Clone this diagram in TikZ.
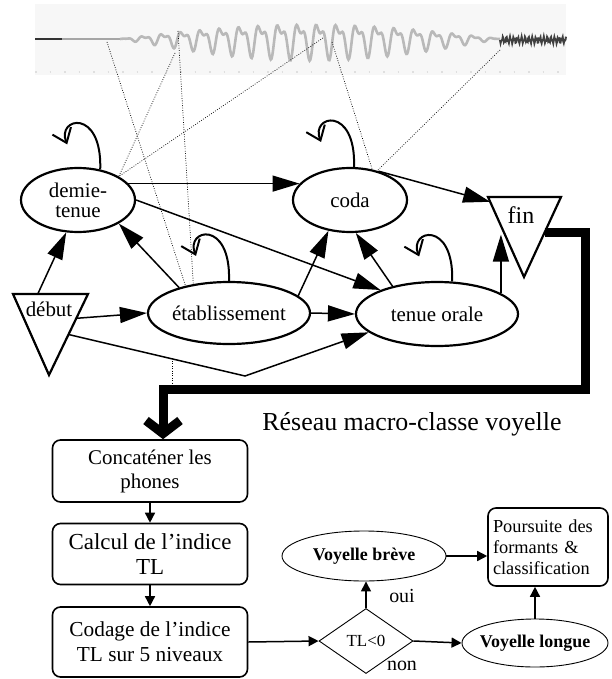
\documentclass[tikz,border=0pt]{standalone}
\usepackage{fontspec}
\setmainfont{Liberation Serif}
\usetikzlibrary{shapes.geometric,arrows.meta,calc,positioning}

\begin{document}
\begin{tikzpicture}[x=1bp,y=-1bp,
  state/.style={ellipse,draw,line width=2.2bp,inner sep=0pt,align=center,font=\fontsize{21}{20}\selectfont},
  edge/.style={line width=1.5bp,-{Triangle[length=27bp,width=16bp]}},
  selfloop/.style={line width=2bp,-{Straight Barb[length=13bp,width=20bp]}},
  trace/.style={line width=0.7bp,dash pattern=on 0.8bp off 1.6bp},
  bigarrow/.style={line width=9bp,-{Straight Barb[length=13bp,width=34bp]}},
  stepbox/.style={draw,rounded corners=8bp,line width=1.6bp,minimum width=195bp,inner sep=2bp,align=center},
  flow/.style={line width=1.5bp,-{Triangle[length=10bp,width=10bp]}},
  choice/.style={ellipse,draw,line width=0.9bp,inner sep=0pt,font=\fontsize{18}{20}\selectfont\bfseries},
]
\useasboundingbox (0,0) rectangle (612,679);
%%
% Signal
\fill[gray!6] (35,4) rectangle (566,75);
\draw[gray!25,line width=1.5bp,dash pattern=on 1.5bp off 13bp] (35,72) -- (566,72);
\draw[black!80,line width=2.4bp] (35,39) -- (62,39);
\draw[gray!70,line width=1.6bp] (62,39) -- (120,39);
\draw[gray!55,line width=2.6bp] plot[domain=120:500,samples=500]
  (\x,{39 - 22*sin(0.4737*(\x-120))*(0.65*sin(18.557*(\x-120)) + 0.35*sin(37.113*(\x-120)+60))});
\draw[black!75,line width=2bp] plot[domain=500:566,samples=120]
  (\x,{40 + 2*sin(97*(\x-500)) + 1.5*sin(211*(\x-500))});
\coordinate (w1) at (107,42);
\coordinate (w2) at (175,53);
\coordinate (w3) at (178,31);
\coordinate (w4) at (323,38);
\coordinate (w5) at (332,42);
\coordinate (w6) at (500,50);
%%
% Node: demie-tenue
\node[state,minimum width=114bp,minimum height=64bp] (dt) at (78,200) {demie-\\tenue};
% Node: coda
\node[state,minimum width=114bp,minimum height=64bp] (cd) at (350,200) {coda};
% Node: etablissement
\node[state,minimum width=162bp,minimum height=62bp] (et) at (229,313) {\makebox[0pt]{établissement}};
% Node: tenue orale
\node[state,minimum width=162bp,minimum height=64bp] (to) at (437,314) {tenue orale};
% Node: debut
\coordinate (dbA) at (13,294);
\coordinate (dbB) at (88,294);
\coordinate (dbC) at (49,375);
\draw[line width=2.2bp] (dbA) -- (dbB) -- (dbC) -- cycle;
\node[font=\fontsize{21}{20}\selectfont] (db) at (49,309) {début};
% Node: fin
\coordinate (finA) at (488,197);
\coordinate (finB) at (561,197);
\coordinate (finC) at (524,277);
\draw[line width=2.2bp] (finA) -- (finB) -- (finC) -- cycle;
\node[font=\fontsize{24}{24}\selectfont] (fin) at (521,215) {fin};
\coordinate (finL) at ($(finA)!0.47!(finC)$);
\coordinate (finR) at ($(finB)!0.44!(finC)$);
\coordinate (bend) at (245,376);
\coordinate (corner) at (585,389);
%%
% Traces: signal -> states
\draw[trace] (w1) -- (et.148);
\draw[trace] (w2) -- (dt.30);
\draw[trace] (w3) -- (et.141);
\draw[trace] (w4) -- (dt.30);
\draw[trace] (w5) -- (cd.54);
\draw[trace] (w6) -- (cd.47);
\draw[trace] (172,361) -- (172,385);
%%
% Edge: demie-tenue -> coda
\draw[edge] (dt.18) -- (cd.162);
% Edge: demie-tenue -> tenue orale
\draw[edge] (dt.east) -- (to.157);
% Edge: debut -> demie-tenue
\draw[edge] ($(dbA)!0.33!(dbB)$) -- (dt.250);
% Edge: debut -> etablissement
\draw[edge] ($(dbB)!0.3!(dbC)$) -- (et.west);
% Edge: debut -> tenue orale
\draw[edge] ($(dbB)!0.5!(dbC)$) -- (bend) -- (to.195);
% Edge: etablissement -> demie-tenue
\draw[edge] (et.153) -- (dt.330);
% Edge: etablissement -> coda
\draw[edge] (et.14) -- (cd.235);
% Edge: etablissement -> tenue orale
\draw[edge] (et.east) -- (to.west);
% Edge: tenue orale -> coda
\draw[edge] (to.148) -- (cd.280);
% Edge: tenue orale -> fin
\draw[edge] (to.18) -- (to.18 |- finL);
% Edge: coda -> fin
\draw[edge] (cd.45) -- ($(finA)!0.06!(finC)$);
% Self loops
\draw[selfloop] (dt.54) .. controls ($(dt.54)+(2,-62)$) and ($(dt.54)+(-44,-52)$) .. ($(dt.54)+(-33,-25)$);
\draw[selfloop] (et.north) .. controls ($(et.north)+(2,-62)$) and ($(et.north)+(-44,-52)$) .. ($(et.north)+(-33,-25)$);
\draw[selfloop] (cd.83) .. controls ($(cd.83)+(2,-62)$) and ($(cd.83)+(-44,-52)$) .. ($(cd.83)+(-33,-25)$);
\draw[selfloop] (to.65) .. controls ($(to.65)+(2,-62)$) and ($(to.65)+(-44,-52)$) .. ($(to.65)+(-33,-25)$);
%%
% Node: processing steps
\node[stepbox,minimum height=62bp,font=\fontsize{21}{24}\selectfont] (cc) at (150,471) {Concaténer les\\phones};
\node[stepbox,minimum height=61bp,font=\fontsize{23}{25}\selectfont] (cl) at (150,554) {Calcul de l’indice\\TL};
\node[stepbox,minimum height=70bp,font=\fontsize{21.4}{25}\selectfont] (cg) at (150,642) {Codage de l’indice\\TL sur 5 niveaux};
\node[diamond,draw,line width=0.9bp,minimum width=94bp,minimum height=65bp,inner sep=0pt,font=\fontsize{17}{19}\selectfont] (tl) at (366,641) {TL<0};
\node[choice,minimum width=164bp,minimum height=50bp] (vb) at (364,556) {\makebox[0pt]{Voyelle brève}};
\node[choice,minimum width=146bp,minimum height=48bp] (vl) at (535,643) {\makebox[0pt]{Voyelle longue}};
\node[draw,rounded corners=8bp,line width=1.6bp,minimum width=120bp,minimum height=78bp,text width=110bp,inner sep=4bp,align=left,font=\fontsize{18.4}{21}\selectfont] (ps) at (548,547) {Poursuite des\\formants \&\\classification};
\node[font=\fontsize{26}{28}\selectfont] (net) at (412,424) {Réseau macro-classe voyelle};
\node[font=\fontsize{20}{22}\selectfont] (yes) at (402,596) {oui};
\node[font=\fontsize{20}{22}\selectfont] (no) at (402,666) {non};
%%
% Edge: fin -> Concatener
\draw[bigarrow] (finR) -| (corner) -| ($(cc.north)+(13,0)$);
% Edge: steps
\draw[flow] (cc) -- (cl);
\draw[flow] (cl) -- (cg);
\draw[flow] (cg.east) -- (tl.west);
\draw[flow] (tl.north) -- (tl.north |- vb.south);
\draw[flow] (tl.east) -- (vl.west);
\draw[flow] (vb.east) -- (vb.east -| ps.west);
\draw[flow] (vl.north) -- (vl.north |- ps.south);
%
\end{tikzpicture}
\end{document}
